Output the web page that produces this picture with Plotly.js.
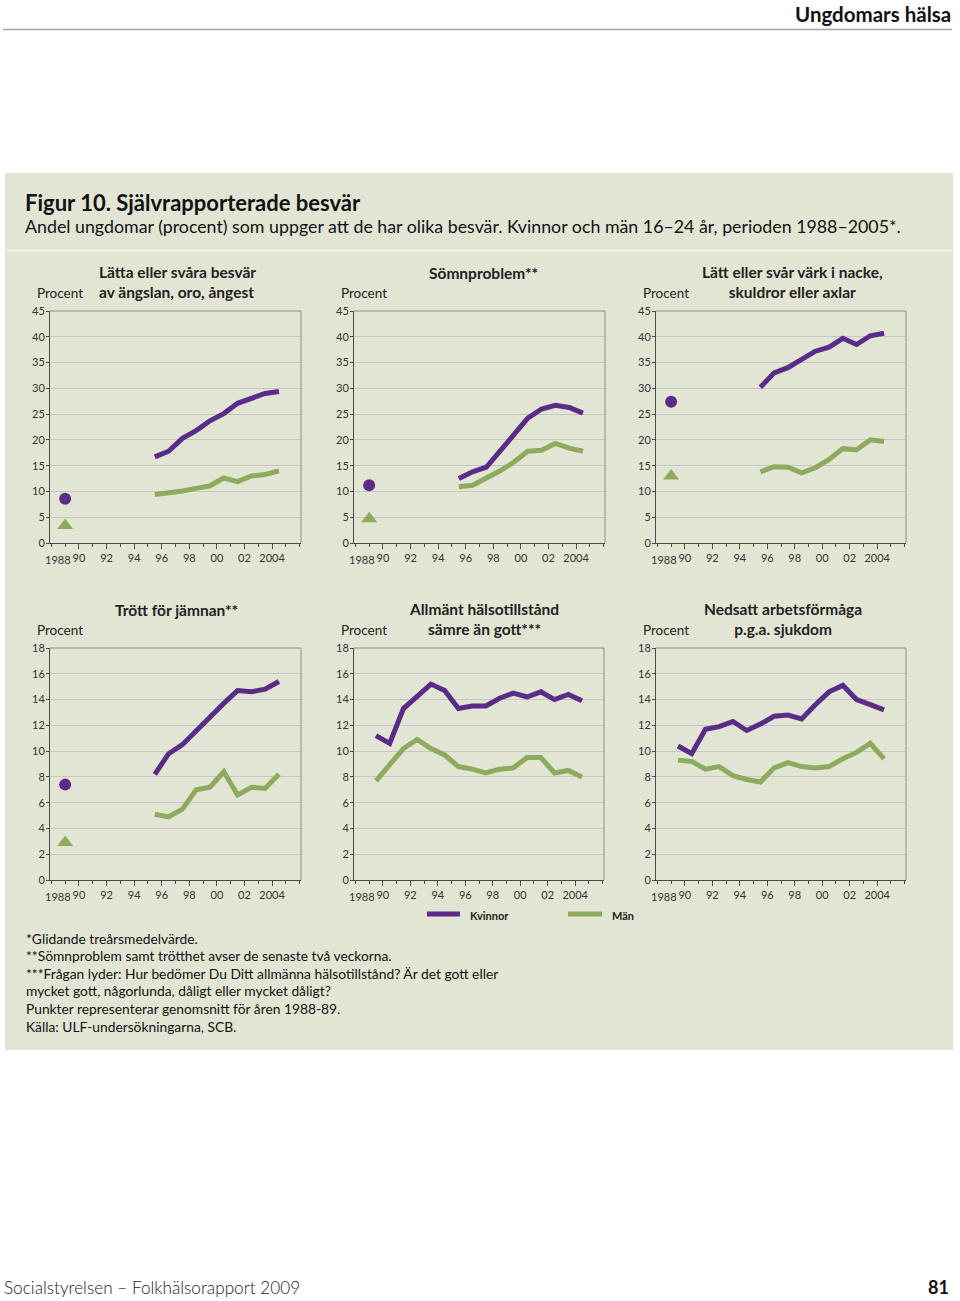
<!DOCTYPE html>
<html>
<head>
<meta charset="utf-8">
<script src="https://cdn.plot.ly/plotly-3.0.1.min.js"></script>
<style>
  html, body { margin: 0; padding: 0; background: #ffffff; }
  #chart { width: 960px; height: 1301px; }
</style>
</head>
<body>
<div id="chart"></div>
<script>
// ---------------- DATA ----------------
const yearsShort = [1995.5, 1996.5, 1997.5, 1998.5, 1999.5, 2000.5, 2001.5, 2002.5, 2003.5, 2004.5];
const yearsLong = [1989.5, 1990.5, 1991.5, 1992.5, 1993.5, 1994.5, 1995.5, 1996.5, 1997.5, 1998.5, 1999.5, 2000.5, 2001.5, 2002.5, 2003.5, 2004.5];
const baseYear = [1989];

const tickYears = [1990, 1992, 1994, 1996, 1998, 2000, 2002, 2004];
const tickLabels = ['90', '92', '94', '96', '98', '00', '02', '2004'];

const anxietyW = [16.7, 17.8, 20.3, 21.8, 23.7, 25.1, 27.1, 28.0, 29.0, 29.4];
const anxietyM = [9.4, 9.7, 10.1, 10.6, 11.1, 12.6, 11.9, 13.0, 13.3, 14.0];
const anxietyBaseW = [8.6];
const anxietyBaseM = [3.4];

const sleepW = [12.5, 13.8, 14.7, 17.9, 21.1, 24.2, 26.0, 26.7, 26.3, 25.2];
const sleepM = [10.9, 11.2, 12.6, 14.0, 15.7, 17.8, 18.0, 19.3, 18.4, 17.8];
const sleepBaseW = [11.2];
const sleepBaseM = [4.7];

const neckW = [30.2, 33.0, 34.0, 35.5, 37.2, 38.0, 39.7, 38.5, 40.2, 40.7];
const neckM = [13.8, 14.8, 14.7, 13.6, 14.6, 16.2, 18.3, 18.1, 20.0, 19.7];
const neckBaseW = [27.4];
const neckBaseM = [13.0];

const tiredW = [8.2, 9.8, 10.5, 11.6, 12.7, 13.7, 14.7, 14.6, 14.8, 15.4];
const tiredM = [5.1, 4.9, 5.5, 7.0, 7.2, 8.4, 6.6, 7.2, 7.1, 8.2];
const tiredBaseW = [7.4];
const tiredBaseM = [2.9];

const healthW = [11.2, 10.6, 13.3, 14.3, 15.2, 14.7, 13.3, 13.5, 13.5, 14.1, 14.5, 14.2, 14.6, 14.0, 14.4, 13.9];
const healthM = [7.7, 9.0, 10.2, 10.9, 10.2, 9.7, 8.8, 8.6, 8.3, 8.6, 8.7, 9.5, 9.5, 8.3, 8.5, 8.0];

const workW = [10.4, 9.8, 11.7, 11.9, 12.3, 11.6, 12.1, 12.7, 12.8, 12.5, 13.6, 14.6, 15.1, 14.0, 13.6, 13.2];
const workM = [9.3, 9.2, 8.6, 8.8, 8.1, 7.8, 7.6, 8.7, 9.1, 8.8, 8.7, 8.8, 9.4, 9.9, 10.6, 9.4];

const panelTitles = [
  'Lätta eller svåra besvär<br>av ängslan, oro, ångest',
  'Sömnproblem**',
  'Lätt eller svår värk i nacke,<br>skuldror eller axlar',
  'Trött för jämnan**',
  'Allmänt hälsotillstånd<br>sämre än gott***',
  'Nedsatt arbetsförmåga<br>p.g.a. sjukdom'
];
const legendNames = ['Kvinnor', 'Män'];
const footnotes = [
  '*Glidande treårsmedelvärde.',
  '**Sömnproblem samt trötthet avser de senaste två veckorna.',
  '***Frågan lyder: Hur bedömer Du Ditt allmänna hälsotillstånd? Är det gott eller',
  'mycket gott, någorlunda, dåligt eller mycket dåligt?',
  'Punkter representerar genomsnitt för åren 1988-89.',
  'Källa: ULF-undersökningarna, SCB.'
];

// ---------------- STYLE / LAYOUT ----------------
const W = 960, H = 1301;
const PURPLE = '#5b2b88';
const GREEN = '#8dab5c';
const PANEL_BG = '#e2e5d4';
const FONT = 'Lato, "Open Sans", "DejaVu Sans", sans-serif';
const fx = p => p / W;
const fy = p => 1 - p / H;

const panels = [
  {x0: 50, x1: 301, y0: 311, y1: 543, ymax: 45, dy: 5, W: anxietyW, M: anxietyM, bW: anxietyBaseW, bM: anxietyBaseM, xs: yearsShort},
  {x0: 354, x1: 605, y0: 311, y1: 543, ymax: 45, dy: 5, W: sleepW, M: sleepM, bW: sleepBaseW, bM: sleepBaseM, xs: yearsShort},
  {x0: 656, x1: 906, y0: 311, y1: 543, ymax: 45, dy: 5, W: neckW, M: neckM, bW: neckBaseW, bM: neckBaseM, xs: yearsShort},
  {x0: 50, x1: 301, y0: 648, y1: 880, ymax: 18, dy: 2, W: tiredW, M: tiredM, bW: tiredBaseW, bM: tiredBaseM, xs: yearsShort},
  {x0: 354, x1: 604, y0: 648, y1: 880, ymax: 18, dy: 2, W: healthW, M: healthM, bW: null, bM: null, xs: yearsLong},
  {x0: 656, x1: 906, y0: 648, y1: 880, ymax: 18, dy: 2, W: workW, M: workM, bW: null, bM: null, xs: yearsLong}
];

const titlePos = [
  {x: 97, y: 282, xanchor: 'left', align: 'left'},
  {x: 483, y: 273, xanchor: 'center', align: 'center'},
  {x: 792, y: 282, xanchor: 'center', align: 'center'},
  {x: 176, y: 610, xanchor: 'center', align: 'center'},
  {x: 484, y: 619, xanchor: 'center', align: 'center'},
  {x: 783, y: 619, xanchor: 'center', align: 'center'}
];

const traces = [];
const layout = {
  width: W, height: H,
  margin: {l: 0, r: 0, t: 0, b: 0},
  paper_bgcolor: '#ffffff',
  plot_bgcolor: '#ffffff',
  showlegend: false,
  font: {family: FONT, color: '#222'},
  shapes: [],
  annotations: []
};

// page decorations
layout.shapes.push({type: 'rect', xref: 'paper', yref: 'paper', layer: 'below',
  x0: fx(5), x1: fx(953), y0: fy(1050), y1: fy(173), fillcolor: PANEL_BG, line: {width: 0}});
layout.shapes.push({type: 'line', xref: 'paper', yref: 'paper', layer: 'below',
  x0: fx(5), x1: fx(953), y0: fy(250.5), y1: fy(250.5), line: {color: '#f1f3e9', width: 1.5}});
layout.shapes.push({type: 'line', xref: 'paper', yref: 'paper',
  x0: fx(3), x1: fx(952), y0: fy(29.5), y1: fy(29.5), line: {color: '#a3a3a3', width: 1.5}});

panels.forEach((p, i) => {
  const n = i + 1;
  const xa = n === 1 ? 'xaxis' : 'xaxis' + n;
  const ya = n === 1 ? 'yaxis' : 'yaxis' + n;
  const xr = n === 1 ? 'x' : 'x' + n;
  const yr = n === 1 ? 'y' : 'y' + n;

  layout[xa] = {
    domain: [fx(p.x0), fx(p.x1)],
    range: [1987.9, 2006.1],
    anchor: yr,
    showgrid: false, zeroline: false,
    showline: true, linecolor: '#4a4a4a', linewidth: 1,
    tickmode: 'array', tickvals: tickYears, ticktext: tickLabels,
    ticks: 'outside', ticklen: 5, tickwidth: 1, tickcolor: '#4a4a4a',
    tickfont: {family: FONT, size: 11, color: '#333'},
    minor: {tickmode: 'linear', tick0: 1989, dtick: 1, ticks: 'outside', ticklen: 3, tickwidth: 1, tickcolor: '#4a4a4a', showgrid: false},
    fixedrange: true
  };
  layout[ya] = {
    domain: [fy(p.y1), fy(p.y0)],
    range: [0, p.ymax],
    anchor: xr,
    dtick: p.dy, tick0: 0,
    showgrid: true, gridcolor: '#c6c6c6', gridwidth: 1,
    zeroline: false,
    showline: true, linecolor: '#4a4a4a', linewidth: 1,
    ticks: 'outside', ticklen: 3, tickwidth: 1, tickcolor: '#4a4a4a',
    ticklabelstandoff: -1,
    tickfont: {family: FONT, size: 11, color: '#333'},
    fixedrange: true
  };

  // box (top/right border)
  layout.shapes.push({type: 'line', xref: xr + ' domain', yref: yr + ' domain',
    x0: 0, x1: 1, y0: 1, y1: 1, line: {color: '#8c8c8c', width: 1}});
  layout.shapes.push({type: 'line', xref: xr + ' domain', yref: yr + ' domain',
    x0: 1, x1: 1, y0: 0, y1: 1, line: {color: '#8c8c8c', width: 1}});

  traces.push({x: p.xs, y: p.M, xaxis: xr, yaxis: yr, type: 'scatter', mode: 'lines',
    line: {color: GREEN, width: 5}, hoverinfo: 'skip'});
  traces.push({x: p.xs, y: p.W, xaxis: xr, yaxis: yr, type: 'scatter', mode: 'lines',
    line: {color: PURPLE, width: 5}, hoverinfo: 'skip'});
  if (p.bW) {
    traces.push({x: baseYear, y: p.bW, xaxis: xr, yaxis: yr, type: 'scatter', mode: 'markers',
      marker: {symbol: 'circle', size: 12, color: PURPLE}, hoverinfo: 'skip', cliponaxis: false});
    traces.push({x: baseYear, y: p.bM, xaxis: xr, yaxis: yr, type: 'scatter', mode: 'markers',
      marker: {symbol: 'triangle-up', size: 14, color: GREEN}, hoverinfo: 'skip', cliponaxis: false});
  }

  // "1988" first label, shifted right like the original
  layout.annotations.push({text: '1988', xref: xr, yref: 'paper', x: 1988.45, y: fy(p.y1 + 16),
    xanchor: 'center', yanchor: 'middle', showarrow: false,
    font: {family: FONT, size: 11, color: '#333'}});

  // Procent label
  layout.annotations.push({text: 'Procent', xref: 'paper', yref: 'paper',
    x: fx(p.x0 - 15), y: fy(p.y0 - 18), xanchor: 'left', yanchor: 'middle', showarrow: false,
    font: {family: FONT, size: 13.5, color: '#222'}});

  // panel title
  const t = titlePos[i];
  layout.annotations.push({text: '<b>' + panelTitles[i] + '</b>', xref: 'paper', yref: 'paper',
    x: fx(t.x), y: fy(t.y), xanchor: t.xanchor, yanchor: 'middle', align: t.align, showarrow: false,
    font: {family: FONT, size: 15.5, color: '#222'}});
});

// header / titles
layout.annotations.push({text: '<b>Ungdomars hälsa</b>', xref: 'paper', yref: 'paper',
  x: fx(952), y: fy(13.5), xanchor: 'right', yanchor: 'middle', showarrow: false, borderpad: 0,
  font: {family: FONT, size: 20.5, color: '#111'}});
layout.annotations.push({text: '<b>Figur 10. Självrapporterade besvär</b>', xref: 'paper', yref: 'paper',
  x: fx(23), y: fy(203), xanchor: 'left', yanchor: 'middle', showarrow: false,
  font: {family: FONT, size: 22, color: '#111'}});
layout.annotations.push({text: 'Andel ungdomar (procent) som uppger att de har olika besvär. Kvinnor och män 16–24 år, perioden 1988–2005*.',
  xref: 'paper', yref: 'paper', x: fx(23), y: fy(226), xanchor: 'left', yanchor: 'middle', showarrow: false,
  font: {family: FONT, size: 17.8, color: '#111'}});

// legend
layout.shapes.push({type: 'line', xref: 'paper', yref: 'paper', x0: fx(427), x1: fx(460), y0: fy(914), y1: fy(914),
  line: {color: PURPLE, width: 5}});
layout.shapes.push({type: 'line', xref: 'paper', yref: 'paper', x0: fx(568), x1: fx(602), y0: fy(914), y1: fy(914),
  line: {color: GREEN, width: 5}});
layout.annotations.push({text: '<b>' + legendNames[0] + '</b>', xref: 'paper', yref: 'paper',
  x: fx(468), y: fy(915), xanchor: 'left', yanchor: 'middle', showarrow: false,
  font: {family: FONT, size: 11, color: '#222'}});
layout.annotations.push({text: '<b>' + legendNames[1] + '</b>', xref: 'paper', yref: 'paper',
  x: fx(610), y: fy(915), xanchor: 'left', yanchor: 'middle', showarrow: false,
  font: {family: FONT, size: 11, color: '#222'}});

// footnotes
footnotes.forEach((line, k) => {
  layout.annotations.push({text: line, xref: 'paper', yref: 'paper',
    x: fx(24), y: fy(938 + k * 17.6), xanchor: 'left', yanchor: 'middle', showarrow: false,
    font: {family: FONT, size: 13.8, color: '#111'}});
});

// page footer
layout.annotations.push({text: 'Socialstyrelsen – Folkhälsorapport 2009', xref: 'paper', yref: 'paper',
  x: fx(2), y: fy(1287), xanchor: 'left', yanchor: 'middle', showarrow: false,
  font: {family: FONT, size: 17.2, color: '#222', weight: 300}});
layout.annotations.push({text: '<b>81</b>', xref: 'paper', yref: 'paper',
  x: fx(951), y: fy(1287), xanchor: 'right', yanchor: 'middle', showarrow: false,
  font: {family: FONT, size: 18, color: '#111'}});

Plotly.newPlot('chart', traces, layout, {staticPlot: true, displayModeBar: false});
</script>
</body>
</html>
